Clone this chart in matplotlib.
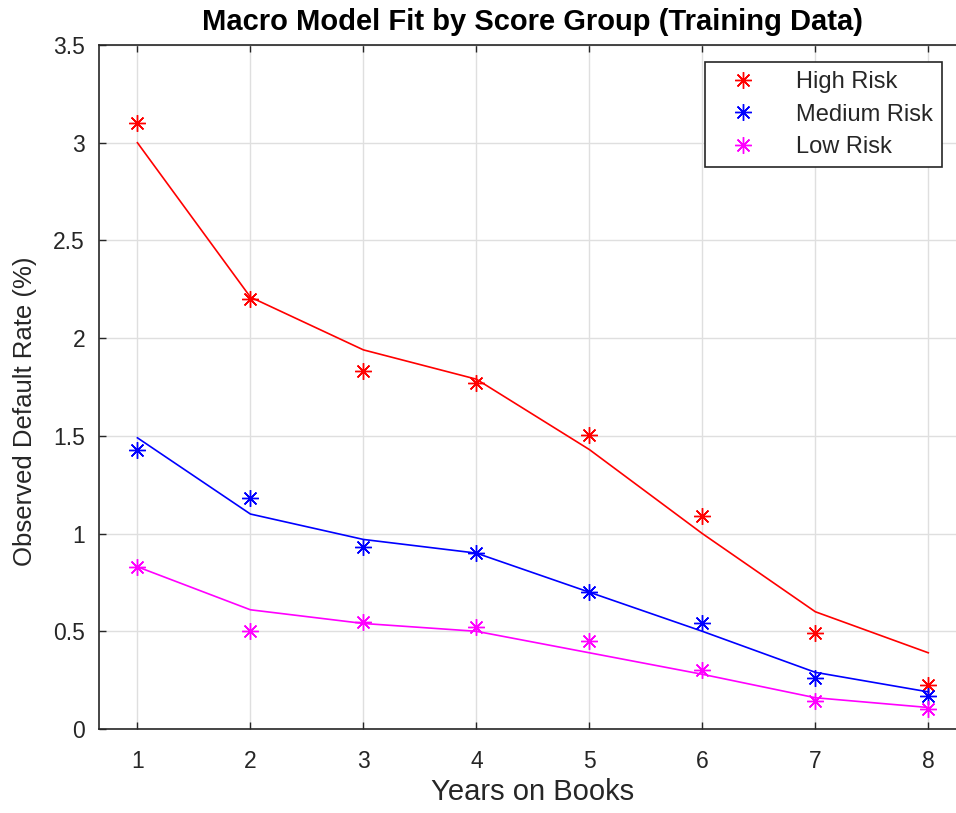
import matplotlib
matplotlib.use("Agg")
import matplotlib.pyplot as plt

plt.rcParams["font.family"] = ["Liberation Sans", "DejaVu Sans"]

years = [1, 2, 3, 4, 5, 6, 7, 8]

# observed default rates (markers)
high_obs = [3.10, 2.20, 1.83, 1.77, 1.505, 1.09, 0.49, 0.225]
med_obs  = [1.43, 1.18, 0.93, 0.90, 0.70, 0.54, 0.26, 0.17]
low_obs  = [0.83, 0.50, 0.55, 0.52, 0.45, 0.30, 0.145, 0.10]

# macro model fit (lines)
high_fit = [3.00, 2.21, 1.94, 1.79, 1.43, 1.00, 0.60, 0.39]
med_fit  = [1.49, 1.10, 0.97, 0.90, 0.70, 0.50, 0.29, 0.19]
low_fit  = [0.83, 0.61, 0.54, 0.50, 0.39, 0.28, 0.16, 0.11]

labels = ["High Risk", "Medium Risk", "Low Risk"]
colors = ["#ff0000", "#0000ff", "#ff00ff"]

fig = plt.figure(figsize=(9.56, 8.13), dpi=100)
ax = fig.add_axes([99 / 956, 1 - 729 / 813, 1 - 99 / 956 + 0.01, (729 - 45) / 813])

star = (8, 2, 0)
for obs, fit, lab, c in zip([high_obs, med_obs, low_obs],
                            [high_fit, med_fit, low_fit], labels, colors):
    ax.plot(years, obs, linestyle="none", marker=star, markersize=12,
            markeredgewidth=1.0, color=c, label=lab)
    ax.plot(years, fit, color=c, linewidth=1.2)

ax.set_xlim(0.66, 8.33)
ax.set_ylim(0, 3.5)
ax.set_xticks(years)
ax.set_yticks([0, 0.5, 1, 1.5, 2, 2.5, 3, 3.5])
ax.set_yticklabels(["0", "0.5", "1", "1.5", "2", "2.5", "3", "3.5"])
ax.grid(True, color="#dfdfdf", linewidth=1)
ax.set_axisbelow(True)
ax.tick_params(direction="in", top=True, right=True, length=5, width=1,
               colors="#262626", labelsize=16.5)
ax.tick_params(axis="x", pad=15)
ax.tick_params(axis="y", pad=10)
for s in ax.spines.values():
    s.set_color("#262626")
    s.set_linewidth(1.2)

ax.set_title("Macro Model Fit by Score Group (Training Data)",
             fontsize=21, fontweight="bold", color="black", pad=11)
ax.set_xlabel("Years on Books", fontsize=21, color="#262626", labelpad=4)
ax.set_ylabel("Observed Default Rate (%)", fontsize=18.5, color="#262626", labelpad=12)
ax.yaxis.label.set_y(0.465)

leg = ax.legend(loc="upper right", bbox_to_anchor=(942 / 956, 1 - 62 / 813),
                bbox_transform=fig.transFigure, fontsize=17, frameon=True,
                fancybox=False, edgecolor="#262626", framealpha=1,
                borderpad=0.38, labelspacing=0.45, handletextpad=1.0,
                handlelength=2.5, borderaxespad=0)
leg.get_frame().set_linewidth(1.2)
for t in leg.get_texts():
    t.set_color("#262626")

fig.savefig("out.png", dpi=100)
